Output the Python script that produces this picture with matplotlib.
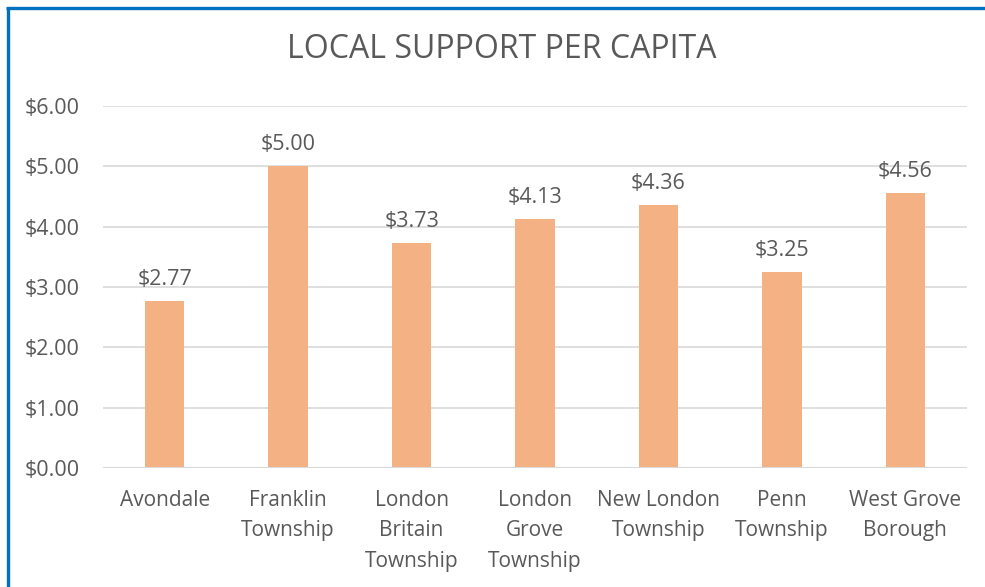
import matplotlib.pyplot as plt
from matplotlib.lines import Line2D

# chart data
places = ["Avondale", "Franklin\nTownship", "London\nBritain\nTownship", "London\nGrove\nTownship",
          "New London\nTownship", "Penn\nTownship", "West Grove\nBorough"]
support = [2.77, 5.00, 3.73, 4.13, 4.36, 3.25, 4.56]
yticks = [0, 1, 2, 3, 4, 5, 6]

TEXT = "#595959"
BAR = "#F4B183"
GRID = "#D9D9D9"
BORDER = "#0070C0"

plt.rcParams["font.family"] = ["Open Sans", "DejaVu Sans"]

fig = plt.figure(figsize=(9.85, 5.87), dpi=100)
ax = fig.add_axes([103 / 985, 1 - 468 / 587, 864 / 985, 362 / 587])

x = range(len(places))
ax.bar(x, support, width=0.32, color=BAR, zorder=3)
for i, v in zip(x, support):
    ax.annotate(f"${v:.2f}", (i, v), xytext=(0, 8), textcoords="offset points",
                ha="center", va="bottom", fontsize=15.5, color=TEXT)

ax.set_xlim(-0.5, len(places) - 0.5)
ax.set_ylim(0, 6)
ax.set_yticks(yticks)
ax.set_yticklabels([f"${t:.2f}" for t in yticks], fontsize=15.5, color=TEXT)
ax.set_xticks(list(x))
ax.set_xticklabels(places, fontsize=15, color=TEXT, linespacing=1.6, va="top")
ax.tick_params(axis="both", length=0)
ax.tick_params(axis="x", pad=15.5)
ax.tick_params(axis="y", pad=17)
ax.grid(axis="y", color=GRID, linewidth=1.2, zorder=0)
for s in ax.spines.values():
    s.set_visible(False)
ax.axhline(0, color=GRID, linewidth=1.5, zorder=4)

fig.text(502 / 985, 1 - 50 / 587, "LOCAL SUPPORT PER CAPITA", ha="center", va="center",
         fontsize=23, color=TEXT)

# blue frame on left and top edges
fig.add_artist(Line2D([7.5 / 985, 7.5 / 985], [0, 1 - 7.5 / 587], transform=fig.transFigure,
                      color=BORDER, linewidth=2.4, solid_capstyle="butt"))
fig.add_artist(Line2D([6 / 985, 1], [1 - 7.5 / 587, 1 - 7.5 / 587], transform=fig.transFigure,
                      color=BORDER, linewidth=2.4, solid_capstyle="butt"))

fig.savefig("out.png", dpi=100)
